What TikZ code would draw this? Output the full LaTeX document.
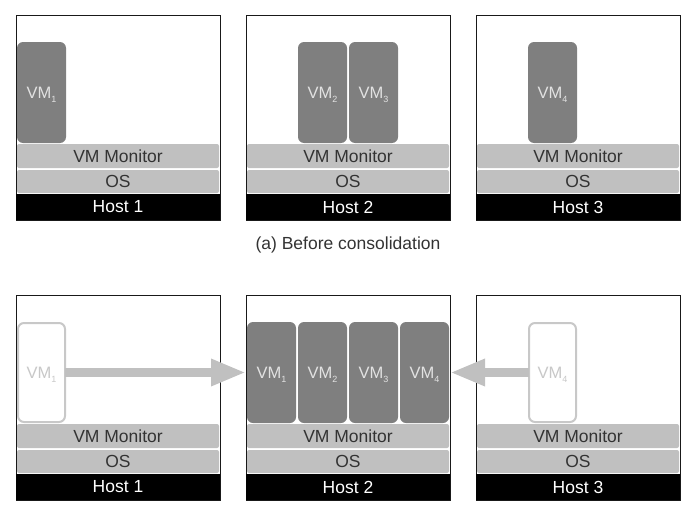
\documentclass[tikz,border=0pt]{standalone}
\usepackage{fontspec}
\setmainfont{Liberation Sans}
\usetikzlibrary{positioning,arrows.meta}

\definecolor{vmgray}{HTML}{7F7F7F}
\definecolor{bargray}{HTML}{C0C0C0}
\definecolor{ghostgray}{HTML}{C8C8C8}
\definecolor{labelgray}{HTML}{333333}
\definecolor{vmtext}{HTML}{E2E2E2}
\newcommand{\vmname}[1]{VM\raisebox{-4.5pt}[0pt][0pt]{\fontsize{9}{9}\selectfont #1}}

\begin{document}
\begin{tikzpicture} [x=1pt, y=-1pt]
    \tikzstyle{every node}=[inner sep=0pt, outer sep=0pt, anchor=north west]
    \tikzstyle{hostbox} = [draw=black!90, line width=0.8pt, minimum width=204pt, minimum height=205pt]
    \tikzstyle{hostbar} = [fill=black, text=white, minimum width=204pt, minimum height=26pt, font=\fontsize{17.5}{19}\selectfont]
    \tikzstyle{layerbar} = [fill=bargray, rounded corners=2pt, text=labelgray, minimum width=202pt, font=\fontsize{17.5}{19}\selectfont]
    \tikzstyle{vm} = [fill=vmgray, rounded corners=6pt, text=vmtext, minimum width=49pt, minimum height=101pt, font=\fontsize{16.5}{18}\selectfont]
    \tikzstyle{ghostvm} = [draw=ghostgray, line width=2pt, fill=white, rounded corners=6pt, text=ghostgray, minimum width=47pt, minimum height=99pt, font=\fontsize{16.5}{18}\selectfont]
    \tikzstyle{migrate} = [draw=bargray, line width=9pt, -{Triangle[length=35pt,width=25pt]}]

    \useasboundingbox (0,0) rectangle (697,522);

    % (a) before consolidation
    \node[hostbox] (host1a) at (16,15) {};
    \node[hostbox] (host2a) at (246,15) {};
    \node[hostbox] (host3a) at (476,15) {};
    \node[hostbar, anchor=south west] (hb1a) at (host1a.south west) {Host 1};
    \node[hostbar, anchor=south west] (hb2a) at (host2a.south west) {Host 2};
    \node[hostbar, anchor=south west] (hb3a) at (host3a.south west) {Host 3};
    \node[layerbar, minimum height=23pt, above=1pt of hb1a] (os1a) {OS};
    \node[layerbar, minimum height=23pt, above=1pt of hb2a] (os2a) {OS};
    \node[layerbar, minimum height=23pt, above=1pt of hb3a] (os3a) {OS};
    \node[layerbar, minimum height=24pt, above=2pt of os1a] (mon1a) {VM Monitor};
    \node[layerbar, minimum height=24pt, above=2pt of os2a] (mon2a) {VM Monitor};
    \node[layerbar, minimum height=24pt, above=2pt of os3a] (mon3a) {VM Monitor};
    \node[vm] (vm1a) at (17,42) {\vmname{1}};
    \node[vm] (vm2a) at (298,42) {\vmname{2}};
    \node[vm] (vm3a) at (349,42) {\vmname{3}};
    \node[vm] (vm4a) at (528,42) {\vmname{4}};
    \node[anchor=center, text=labelgray, font=\fontsize{17.5}{19}\selectfont] (caption) at (348,245) {(a) Before consolidation};

    % after consolidation
    \node[hostbox] (host1b) at (16,295) {};
    \node[hostbox] (host2b) at (246,295) {};
    \node[hostbox] (host3b) at (476,295) {};
    \node[hostbar, anchor=south west] (hb1b) at (host1b.south west) {Host 1};
    \node[hostbar, anchor=south west] (hb2b) at (host2b.south west) {Host 2};
    \node[hostbar, anchor=south west] (hb3b) at (host3b.south west) {Host 3};
    \node[layerbar, minimum height=23pt, above=1pt of hb1b] (os1b) {OS};
    \node[layerbar, minimum height=23pt, above=1pt of hb2b] (os2b) {OS};
    \node[layerbar, minimum height=23pt, above=1pt of hb3b] (os3b) {OS};
    \node[layerbar, minimum height=24pt, above=2pt of os1b] (mon1b) {VM Monitor};
    \node[layerbar, minimum height=24pt, above=2pt of os2b] (mon2b) {VM Monitor};
    \node[layerbar, minimum height=24pt, above=2pt of os3b] (mon3b) {VM Monitor};
    \node[vm] (vm1b) at (247,322) {\vmname{1}};
    \node[vm] (vm2b) at (298,322) {\vmname{2}};
    \node[vm] (vm3b) at (349,322) {\vmname{3}};
    \node[vm] (vm4b) at (400,322) {\vmname{4}};
    \node[ghostvm] (ghost1) at (18,323) {\vmname{1}};
    \node[ghostvm] (ghost4) at (529,323) {\vmname{4}};

    \draw[migrate] (ghost1.east) -- (ghost1.east -| host2b.west);
    \draw[migrate] (ghost4.west) -- (ghost4.west -| host2b.east);
\end{tikzpicture}
\end{document}
